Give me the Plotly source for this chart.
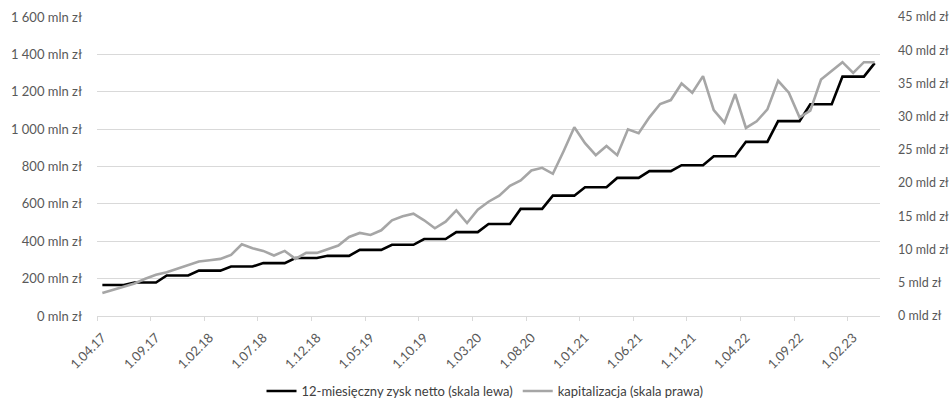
import pandas as pd
import plotly.graph_objects as go

# Monthly observation dates, April 2017 - April 2023
months = pd.date_range("2017-04-01", "2023-04-01", freq="MS")
categories = [f"{d.day}.{d.month:02d}.{d.year % 100:02d}" for d in months]

# 12-month trailing net profit, mln zł (left scale)
zysk_netto = [
    166, 166, 166, 179, 179, 179, 217, 217, 217, 243, 243, 243,
    265, 265, 265, 283, 283, 283, 310, 310, 310, 322, 322, 322,
    354, 354, 354, 381, 381, 381, 412, 412, 412, 449, 449, 449,
    492, 492, 492, 573, 573, 573, 644, 644, 644, 689, 689, 689,
    739, 739, 739, 775, 775, 775, 807, 807, 807, 855, 855, 855,
    932, 932, 932, 1043, 1043, 1043, 1133, 1133, 1133, 1281, 1281, 1281,
    1353,
]

# Market capitalisation, mld zł (right scale)
kapitalizacja = [
    3.45, 3.9, 4.4, 4.9, 5.6, 6.2, 6.6, 7.1, 7.6, 8.2, 8.4, 8.6,
    9.2, 10.8, 10.2, 9.8, 9.1, 9.8, 8.6, 9.5, 9.5, 10.0, 10.6, 11.9,
    12.5, 12.2, 12.9, 14.4, 15.0, 15.4, 14.4, 13.2, 14.2, 15.9, 14.0, 16.0,
    17.2, 18.1, 19.6, 20.4, 21.9, 22.3, 21.4, 24.8, 28.4, 26.0, 24.2, 25.6,
    24.2, 28.1, 27.5, 29.9, 31.9, 32.5, 35.0, 33.6, 36.1, 31.0, 29.1, 33.4,
    28.3, 29.3, 31.1, 35.4, 33.6, 29.9, 30.9, 35.6, 36.9, 38.2, 36.6, 38.2,
    38.2,
]

font_family = "Lato, 'Open Sans', sans-serif"
label_font = dict(family=font_family, size=13, color="#595959")
right_font = dict(family=font_family, size=12.5, color="#595959")
grid_color = "#d9d9d9"

fig = go.Figure()
fig.add_trace(go.Scatter(
    x=categories, y=zysk_netto, mode="lines",
    name="12-miesięczny zysk netto (skala lewa)",
    line=dict(color="#000000", width=2.6),
    yaxis="y",
))
fig.add_trace(go.Scatter(
    x=categories, y=kapitalizacja, mode="lines",
    name="kapitalizacja (skala prawa)",
    line=dict(color="#a6a6a6", width=2.6),
    yaxis="y2",
))

fig.update_layout(
    width=951, height=399,
    margin=dict(l=97, r=71, t=17, b=83, autoexpand=False),
    paper_bgcolor="#ffffff", plot_bgcolor="#ffffff",
    separators=", ",
    font=label_font,
    showlegend=True,
    legend=dict(
        orientation="h", xref="container", yref="container",
        x=0.51, xanchor="center", y=0.02, yanchor="middle",
        font=dict(family=font_family, size=13, color="#404040"),
        itemwidth=30, tracegroupgap=0,
    ),
    xaxis=dict(
        type="category", range=[-0.5, len(categories) - 0.5],
        tickmode="linear", tick0=0, dtick=5, tickson="boundaries",
        ticks="outside", ticklen=4, tickcolor=grid_color,
        tickangle=-45, tickfont=label_font, ticklabelstandoff=8,
        showgrid=False, showline=True, linecolor=grid_color, linewidth=1,
        automargin=False, fixedrange=True,
    ),
    yaxis=dict(
        range=[0, 1600], tickmode="linear", tick0=0, dtick=200,
        tickformat=",d", ticksuffix=" mln zł", tickfont=label_font,
        showgrid=True, gridcolor=grid_color, gridwidth=1,
        zeroline=False, showline=False, ticks="", ticklabelstandoff=14,
        automargin=False,
    ),
    yaxis2=dict(
        range=[0, 45], tickmode="linear", tick0=0, dtick=5,
        ticksuffix=" mld zł", tickfont=right_font,
        overlaying="y", side="right", showgrid=False,
        zeroline=False, showline=False, ticks="", ticklabelstandoff=17,
        automargin=False,
    ),
)

fig.write_html("out.html")
